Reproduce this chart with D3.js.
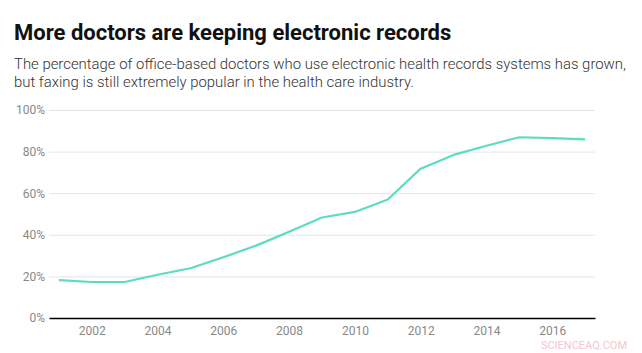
<!DOCTYPE html>
<html lang="en">
<head>
    <meta charset="UTF-8">
    <title>More doctors are keeping electronic records</title>
    <script src="https://d3js.org/d3.v7.min.js"></script>
    <style>
        body { margin: 0; background: #fff; font-family: Roboto, sans-serif; }
        .title { font-size: 22px; font-weight: 700; fill: #111; }
        .subtitle { font-size: 14.9px; font-weight: 300; fill: #333; }
        .tick text { font-size: 12px; fill: #888; font-family: Roboto, sans-serif; }
        .watermark { font-size: 11px; fill: #f4c6cf; font-family: Roboto, sans-serif; }
    </style>
</head>
<body>
    <svg width="642" height="353"></svg>
    <script>
        const years = [2001, 2002, 2003, 2004, 2005, 2006, 2007, 2008, 2009,
                       2010, 2011, 2012, 2013, 2014, 2015, 2016, 2017];
        const ehrShare = [18.2, 17.3, 17.3, 20.8, 23.9, 29.2, 34.8, 41.5, 48.3,
                          51.0, 57.0, 71.8, 78.4, 82.8, 86.9, 86.5, 85.9];
        const yTicks = [0, 20, 40, 60, 80, 100];
        const xTicks = [2002, 2004, 2006, 2008, 2010, 2012, 2014, 2016];

        const svg = d3.select("svg");
        const margin = { top: 110, right: 47, bottom: 35, left: 49 };
        const width = +svg.attr("width") - margin.left - margin.right;
        const height = +svg.attr("height") - margin.top - margin.bottom;

        svg.append("text").attr("class", "title").attr("x", 14).attr("y", 40)
            .text("More doctors are keeping electronic records");
        svg.append("text").attr("class", "subtitle").attr("x", 14).attr("y", 69)
            .text("The percentage of office-based doctors who use electronic health records systems has grown,");
        svg.append("text").attr("class", "subtitle").attr("x", 14).attr("y", 87)
            .text("but faxing is still extremely popular in the health care industry.");

        const g = svg.append("g").attr("transform", `translate(${margin.left},${margin.top})`);

        const x = d3.scaleLinear().domain([2000.7, 2017.3]).range([0, width]);
        const y = d3.scaleLinear().domain([0, 100]).range([height, 0]);

        // gridlines + y labels
        const yAxis = g.append("g")
            .call(d3.axisLeft(y).tickValues(yTicks).tickSize(-width).tickFormat(d => d + "%"));
        yAxis.select(".domain").remove();
        yAxis.selectAll(".tick line").attr("stroke", "#e4e4e4");
        yAxis.selectAll(".tick text").attr("x", -4);

        // x axis
        const xAxis = g.append("g").attr("transform", `translate(0,${height})`)
            .call(d3.axisBottom(x).tickValues(xTicks).tickSize(0).tickFormat(d3.format("d")));
        xAxis.select(".domain").attr("stroke", "#000").attr("stroke-width", 1.5);
        xAxis.selectAll(".tick text").attr("dy", "1.15em");

        const line = d3.line()
            .x((d, i) => x(years[i]))
            .y(d => y(d));

        g.append("path")
            .datum(ehrShare)
            .attr("fill", "none")
            .attr("stroke", "#5cdcc0")
            .attr("stroke-width", 2.2)
            .attr("stroke-linejoin", "round")
            .attr("d", line);

        svg.append("text").attr("class", "watermark")
            .attr("x", 627).attr("y", 349).attr("text-anchor", "end")
            .text("SCIENCEAQ.COM");
    </script>
</body>
</html>
